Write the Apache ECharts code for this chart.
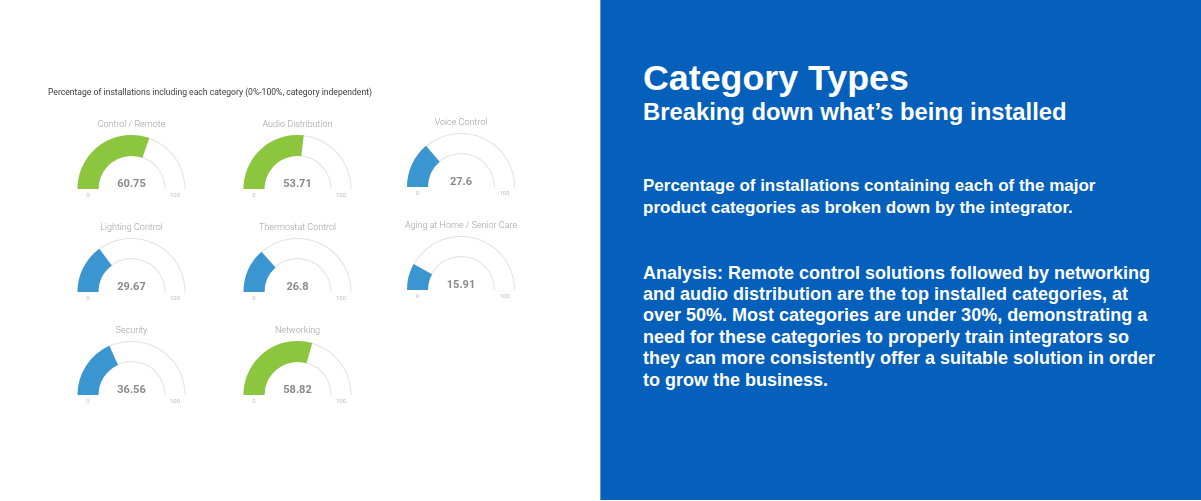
<!DOCTYPE html>
<html lang="en">
<head>
    <meta charset="UTF-8">
    <title>Category Types</title>
    <style>
        * { box-sizing: border-box; margin: 0; padding: 0; }
        body {
            width: 1201px;
            height: 501px;
            overflow: hidden;
            background: #fff;
            position: relative;
        }
        #chart {
            position: absolute;
            left: 0; top: 0;
            width: 600px;
            height: 501px;
        }
        .panel {
            position: absolute;
            left: 600px; top: 0;
            width: 601px;
            height: 500px;
            background: #0460bb;
            border-left: 1px solid #5f97d4;
            color: #fff;
            font-family: 'Liberation Sans', Arial, sans-serif;
            font-weight: bold;
        }
        .panel > * { position: absolute; left: 42px; white-space: nowrap; }
        .panel h1 {
            top: 57.5px;
            font-size: 35.8px;
            line-height: 40px;
        }
        .panel h2 {
            top: 98.5px;
            font-size: 23.8px;
            line-height: 26px;
        }
        .panel .lead { top: 175px; font-size: 17px; line-height: 21.5px; }
        .panel .analysis { top: 262.5px; font-size: 18px; line-height: 21.4px; }
    </style>
</head>
<body>
    <div id="chart"></div>
    <div class="panel">
        <h1>Category Types</h1>
        <h2>Breaking down what’s being installed</h2>
        <p class="lead">Percentage of installations containing each of the major<br>product categories as broken down by the integrator.</p>
        <p class="analysis">Analysis: Remote control solutions followed by networking<br>and audio distribution are the top installed categories, at<br>over 50%. Most categories are under 30%, demonstrating a<br>need for these categories to properly train integrators so<br>they can more consistently offer a suitable solution in order<br>to grow the business.</p>
    </div>

    <script src="https://cdn.jsdelivr.net/npm/echarts@6/dist/echarts.min.js"></script>
    <script>
    // data
    const chartTitle = 'Percentage of installations including each category (0%-100%, category independent)';
    const categories = ['Control / Remote', 'Audio Distribution', 'Voice Control',
        'Lighting Control', 'Thermostat Control', 'Aging at Home / Senior Care',
        'Security', 'Networking'];
    const values = [60.75, 53.71, 27.6, 29.67, 26.8, 15.91, 36.56, 58.82];
    const scaleMin = 0;
    const scaleMax = 100;

    (() => {
        const chart = echarts.init(document.getElementById('chart'));

        // grid layout of the gauges
        const colX = [131.5, 297.5, 461];
        const colDy = [0, 0, -2];
        const rowY = [189, 292, 395];
        const R = 54;
        const W = 21;
        const GREEN = '#8cc63f';
        const BLUE = '#3a95d1';
        const FONT = 'Roboto, sans-serif';

        const base = (i) => {
            const col = i % 3, row = Math.floor(i / 3);
            return {
                type: 'gauge',
                center: [colX[col], rowY[row] + colDy[col]],
                startAngle: 180,
                endAngle: 0,
                min: scaleMin,
                max: scaleMax,
                splitNumber: 1,
                pointer: { show: false },
                axisTick: { show: false },
                splitLine: { show: false, length: 0, distance: 0 },
                axisLabel: { show: false },
                title: { show: false },
                detail: { show: false },
                animation: false,
                silent: true
            };
        };

        const series = [];
        values.forEach((v, i) => {
            const color = v > 50 ? GREEN : BLUE;
            // thin grey outline of the track
            series.push(Object.assign(base(i), {
                radius: R, z: 1,
                axisLine: { lineStyle: { width: W, color: [[1, '#e2e2e2']] } },
                data: [{ value: v }]
            }));
            series.push(Object.assign(base(i), {
                radius: R - 1, z: 2,
                axisLine: { lineStyle: { width: W - 2, color: [[1, '#ffffff']] } },
                data: [{ value: v }]
            }));
            // coloured progress, value, name and end labels
            series.push(Object.assign(base(i), {
                radius: R, z: 3,
                axisLine: { show: false, lineStyle: { width: W } },
                progress: { show: true, width: W, itemStyle: { color: color } },
                axisLabel: {
                    show: true,
                    distance: W / 2 - 8,
                    color: '#bdbdbd',
                    fontSize: 6,
                    fontFamily: FONT,
                    padding: [12, 0, 0, 0],
                    formatter: (val) => '{a|' + val + '}',
                    rich: { a: { width: 16, align: 'center', fontSize: 6, color: '#bdbdbd', fontFamily: FONT } }
                },
                title: {
                    show: true,
                    offsetCenter: [0, -64],
                    color: '#a0a0a0',
                    fontSize: 9,
                    fontWeight: 300,
                    fontFamily: FONT
                },
                detail: {
                    show: true,
                    offsetCenter: [0, -5],
                    color: '#8a8a8a',
                    fontSize: 11,
                    fontWeight: 'bold',
                    fontFamily: FONT,
                    formatter: (val) => String(val)
                },
                data: [{ value: v, name: categories[i] }]
            }));
        });

        chart.setOption({
            backgroundColor: '#fff',
            title: {
                text: chartTitle,
                left: 43,
                top: 83,
                textStyle: { fontSize: 8.6, fontWeight: 'normal', color: '#3a3a3a', fontFamily: FONT }
            },
            series: series
        });

        window.addEventListener('resize', () => chart.resize());
    })();
    </script>
</body>
</html>
